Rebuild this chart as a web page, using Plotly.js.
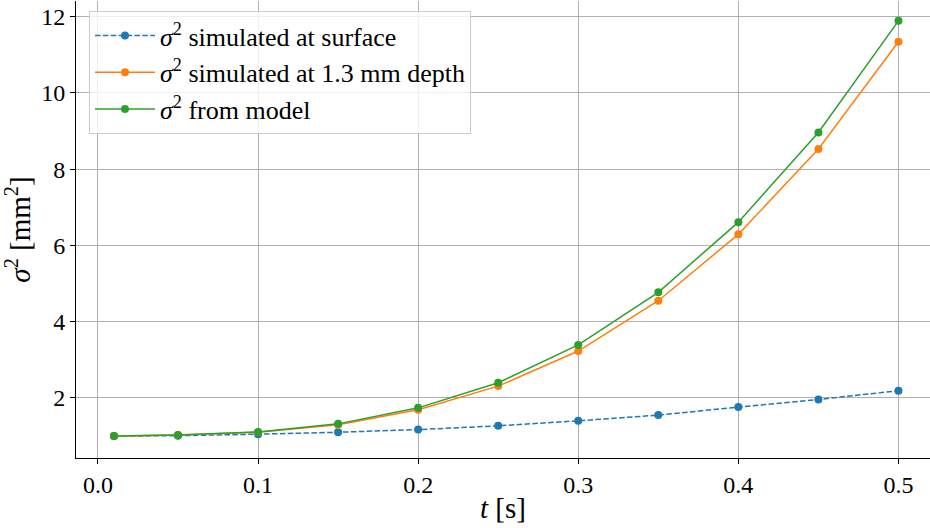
<!DOCTYPE html>
<html>
<head>
<meta charset="utf-8">
<script src="https://cdn.plot.ly/plotly-3.0.1.min.js"></script>
<style>html,body{margin:0;padding:0;background:#fff;}#chart{width:930px;height:528px;}</style>
</head>
<body>
<div id="chart"></div>
<script>
const t = [0.01, 0.05, 0.1, 0.15, 0.2, 0.25, 0.3, 0.35, 0.4, 0.45, 0.5];
const surface = [1.0, 1.01, 1.05, 1.1, 1.17, 1.27, 1.40, 1.55, 1.76, 1.96, 2.19];
const depth = [1.0, 1.03, 1.1, 1.30, 1.69, 2.31, 3.23, 4.55, 6.29, 8.53, 11.34];
const model = [1.0, 1.03, 1.11, 1.32, 1.74, 2.40, 3.39, 4.77, 6.61, 8.96, 11.89];
const names = ['<i>σ</i><sup>2</sup> simulated at surface', '<i>σ</i><sup>2</sup> simulated at 1.3 mm depth', '<i>σ</i><sup>2</sup> from model'];
const xTicks = [0.0, 0.1, 0.2, 0.3, 0.4, 0.5];
const xTickText = ['0.0', '0.1', '0.2', '0.3', '0.4', '0.5'];
const yTicks = [2, 4, 6, 8, 10, 12];

const fontName = 'Liberation Serif';
const traces = [
  {x: t, y: surface, name: names[0], legendgroup: 'a', mode: 'lines+markers', line: {color: '#1f77b4', width: 1.5, dash: '5.5px,2.4px'}, marker: {color: '#1f77b4', size: 8}},
  {x: t, y: depth, name: names[1], legendgroup: 'b', mode: 'lines+markers', line: {color: '#ff7f0e', width: 1.5}, marker: {color: '#ff7f0e', size: 8}},
  {x: t, y: model, name: names[2], legendgroup: 'c', mode: 'lines+markers', line: {color: '#2ca02c', width: 1.5}, marker: {color: '#2ca02c', size: 8}}
];
const layout = {
  width: 930, height: 528,
  margin: {l: 76, r: 0, t: 1, b: 70},
  paper_bgcolor: '#fff', plot_bgcolor: '#fff',
  font: {family: fontName, size: 22, color: '#000'},
  showlegend: true,
  legend: {x: 0.0152, y: 0.978, xanchor: 'left', yanchor: 'top', bgcolor: 'rgba(255,255,255,0.8)', bordercolor: '#cccccc', borderwidth: 1, font: {family: fontName, size: 26, color: '#000'}, tracegroupgap: 0, itemwidth: 60},
  xaxis: {
    range: [-0.0137, 0.5197], tickvals: xTicks, ticktext: xTickText,
    showgrid: true, gridcolor: '#b0b0b0', gridwidth: 1,
    showline: true, linecolor: '#000', linewidth: 1, mirror: false,
    ticks: 'outside', ticklen: 5, tickcolor: '#000', zeroline: false,
    tickfont: {family: fontName, size: 24, color: '#000'},
    title: {text: '<i>t</i> [s]', font: {family: fontName, size: 29, color: '#000'}, standoff: 0}
  },
  yaxis: {
    range: [0.425, 12.41], tickvals: yTicks,
    showgrid: true, gridcolor: '#b0b0b0', gridwidth: 1,
    showline: true, linecolor: '#000', linewidth: 1, mirror: true,
    ticks: 'outside', ticklen: 5, tickcolor: '#000', zeroline: false,
    tickfont: {family: fontName, size: 24, color: '#000'},
    title: {text: '<i>σ</i><sup>2</sup> [mm<sup>2</sup>]', font: {family: fontName, size: 29, color: '#000'}, standoff: 10}
  }
};
Plotly.newPlot('chart', traces, layout, {staticPlot: true});
</script>
</body>
</html>
